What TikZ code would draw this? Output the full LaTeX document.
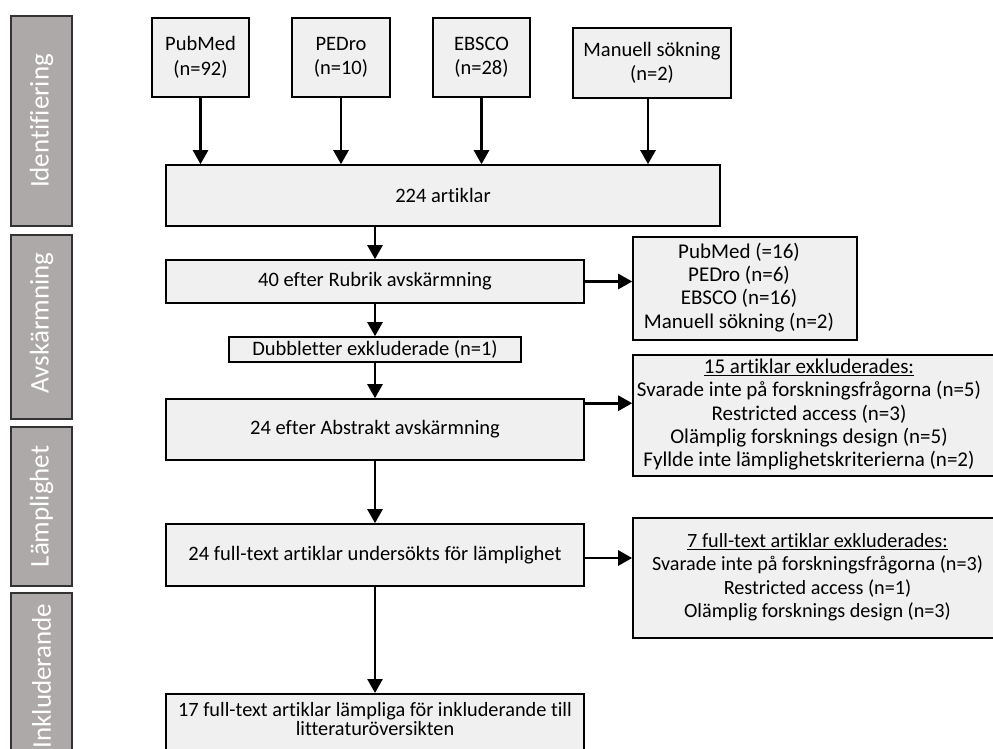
\documentclass[tikz,border=0pt]{standalone}
\usepackage{fontspec}
\setmainfont[Ligatures=NoCommon]{Carlito}
\usetikzlibrary{arrows.meta}
\definecolor{boxfill}{HTML}{F0F0F0}
\definecolor{sidefill}{HTML}{ADA9A8}
\definecolor{sideline}{HTML}{333333}
\newcommand{\shiftL}[2]{\begin{tabular}{@{}c@{}}#2\end{tabular}\kern#1}
\newcommand{\shiftR}[2]{\kern#1\begin{tabular}{@{}c@{}}#2\end{tabular}}
\tikzset{
  box/.style={draw=black, line width=1.6pt, fill=boxfill, rectangle, align=center,
    inner sep=0pt, font=\fontsize{20.5}{24.5}\selectfont},
  exbox/.style={box, font=\fontsize{21}{23.4}\selectfont},
  side/.style={draw=sideline, line width=1.6pt, fill=sidefill, rectangle, inner sep=0pt},
  sidetext/.style={text=white, rotate=90, font=\fontsize{27}{30}\selectfont},
  plain/.style={align=center, inner sep=0pt, font=\fontsize{20.3}{19}\selectfont},
  arr/.style={line width=2.6pt, -{Triangle[length=14pt,width=15pt]}}
}
\begin{document}
\begin{tikzpicture}[x=1pt,y=-1pt]
\clip (0,0) rectangle (993,749);
\fill[white] (0,0) rectangle (993,749);
% side bars
\node[side, minimum width=61pt, minimum height=210pt] (s1) at (41.5,121) {};
\node[sidetext] (t1) at (s1.center) {Identifiering};
\node[side, minimum width=61pt, minimum height=184pt] (s2) at (41.5,327) {};
\node[sidetext] (t2) at (41.5,323) {Avskärmning};
\node[side, minimum width=61pt, minimum height=159pt] (s3) at (41.5,506.5) {};
\node[sidetext] (t3) at (s3.center) {Lämplighet};
\node[side, minimum width=61pt, minimum height=172pt] (s4) at (41.5,679) {};
\node[sidetext] (t4) at (41.5,676) {Inkluderande};
% source boxes
\node[box, minimum width=97pt, minimum height=79pt] (pub) at (200.5,57.5) {PubMed\\(n=92)};
\node[box, minimum width=98pt, minimum height=79pt] (ped) at (341,57.5) {PEDro\\(n=10)};
\node[box, minimum width=97pt, minimum height=79pt] (ebs) at (481.5,57.5) {EBSCO\\(n=28)};
\node[box, minimum width=158pt, minimum height=70pt] (man) at (652,63) {Manuell sökning\\(n=2)};
% main column
\node[box, minimum width=554pt, minimum height=61pt] (all) at (443,195.5) {224 artiklar};
\node[box, minimum width=418pt, minimum height=43pt] (rub) at (375,281.5) {40 efter Rubrik avskärmning};
\node[box, minimum width=292pt, minimum height=25pt] (dub) at (375,349.5) {Dubbletter exkluderade (n=1)};
\node[box, minimum width=418pt, minimum height=61pt] (abs) at (375,429.5) {24 efter Abstrakt avskärmning};
\node[box, minimum width=418pt, minimum height=62pt] (ful) at (375,555) {24 full-text artiklar undersökts för lämplighet};
\node[box, minimum width=418pt, minimum height=64pt, anchor=north] (inc) at (375,693) {};
\node[plain] (inct) at (375,719.5) {17 full-text artiklar lämpliga för inkluderande till\\litteraturöversikten};
% exclusion boxes
\node[exbox, minimum width=224pt, minimum height=103pt] (ex1) at (745,288.5)
  {\shiftL{12pt}{PubMed (=16)\\PEDro (n=6)\\EBSCO (n=16)\\Manuell sökning (n=2)}};
\node[exbox, minimum width=362pt, minimum height=121pt] (ex2) at (814,415.5)
  {\shiftL{10pt}{\underline{15 artiklar exkluderades:}\\Svarade inte på forskningsfrågorna (n=5)\\Restricted access (n=3)\\Olämplig forsknings design (n=5)\\Fyllde inte lämplighetskriterierna (n=2)}};
\node[exbox, font=\fontsize{20.2}{23.4}\selectfont, minimum width=362pt, minimum height=120pt] (ex3) at (814,578)
  {\shiftR{7pt}{\underline{7 full-text artiklar exkluderades:}\\Svarade inte på forskningsfrågorna (n=3)\\Restricted access (n=1)\\Olämplig forsknings design (n=3)}};
% arrows
\draw[arr] (pub.south) -- (pub.south |- all.north);
\draw[arr] (ped.south) -- (ped.south |- all.north);
\draw[arr] (ebs.south) -- (ebs.south |- all.north);
\draw[arr] ([xshift=-4pt]man.south) -- ([xshift=-4pt]man.south |- all.north);
\draw[arr] (all.south -| rub.north) -- (rub.north);
\draw[arr] (rub.south) -- (dub.north);
\draw[arr] (dub.south) -- (abs.north);
\draw[arr] (abs.south) -- (ful.north);
\draw[arr] (ful.south) -- (inc.north);
\draw[arr] (rub.east) -- (rub.east -| ex1.west);
\draw[arr] ([yshift=-5pt]abs.north east) -- ([yshift=-5pt]abs.north east -| ex2.west);
\draw[arr] ([yshift=-3pt]ful.east) -- ([yshift=-3pt]ful.east -| ex3.west);
\end{tikzpicture}
\end{document}
